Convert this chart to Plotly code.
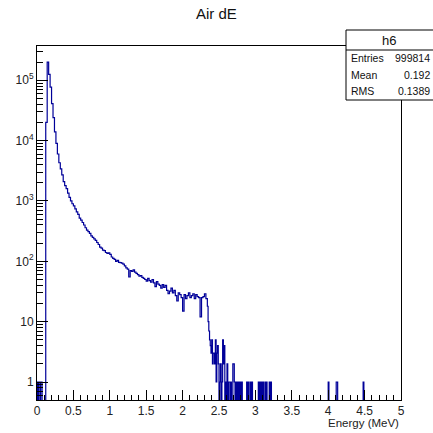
import plotly.graph_objects as go

# ---- data ----
# head: 0.01 MeV bins, low edges starting at 0.00
head_start = 0.00
head_width = 0.01
head_counts = [1, 0, 1, 1, 0, 1, 1, 0, 0, 0, 0, 0]

# main body: 0.02 MeV bins, low edges starting at 0.12
main_start = 0.12
main_width = 0.02
main_counts = [
    20000, 200000, 125000, 77000, 41000, 24000, 14000, 9000, 6000, 4300,
    3400, 2700, 2100, 1800, 1600, 1350, 1150, 1000, 900, 830,
    740, 660, 600, 520, 480, 440, 400, 360, 330, 310,
    290, 265, 250, 235, 222, 205, 190, 172, 165, 153,
    150, 140, 135, 138, 130, 118, 112, 108, 100, 104,
    96, 95, 93, 90, 84, 78, 74, 55, 70, 68,
    72, 66, 63, 60, 57, 58, 54, 52, 50, 47,
    52, 48, 45, 50, 44, 38, 46, 42, 40, 36,
    41, 37, 40, 33, 29, 32, 36, 30, 33, 27,
    22, 30, 28, 25, 15, 28, 24, 27, 30, 25,
    27, 29, 24, 28, 26, 25, 12, 25, 26, 29,
    24,
]

# tail: 0.01 MeV bins from 2.34 to 5.00, only non-empty bins listed
tail_start = 2.34
tail_end = 5.00
tail_width = 0.01
tail_energy = [2.34, 2.35, 2.36, 2.37, 2.38, 2.39, 2.40, 2.41, 2.42, 2.43,
               2.44, 2.45, 2.46, 2.47, 2.48, 2.49, 2.51, 2.52, 2.54, 2.55,
               2.56, 2.57, 2.59, 2.61, 2.63, 2.64, 2.66, 2.69, 2.70, 2.71,
               2.73, 2.75, 2.77, 2.79, 2.81, 2.88, 2.90, 2.93, 2.95, 3.04,
               3.06, 3.08, 3.10, 3.13, 3.15, 3.19, 3.21, 4.00, 4.11, 4.12,
               4.48]
tail_counts = [18, 10, 7, 5, 4, 3, 5, 2, 3, 3,
               2, 5, 1, 3, 4, 2, 1, 2, 1, 5,
               2, 4, 1, 2, 1, 1, 1, 2, 2, 1,
               1, 1, 1, 1, 1, 1, 1, 1, 1, 1,
               1, 1, 1, 1, 1, 1, 1, 1, 1, 1,
               1]

y_tick_vals = [1, 10, 100, 1000, 10000, 100000]
y_tick_text = ["1", "10", "10<sup>2</sup>", "10<sup>3</sup>", "10<sup>4</sup>", "10<sup>5</sup>"]
x_tick_vals = [0, 0.5, 1, 1.5, 2, 2.5, 3, 3.5, 4, 4.5, 5]
x_tick_text = ["0", "0.5", "1", "1.5", "2", "2.5", "3", "3.5", "4", "4.5", "5"]

stats_name = "h6"
stats_labels = ["Entries", "Mean", "RMS"]
stats_values = ["999814", "0.192", "0.1389"]

# ---- build step outline ----
FLOOR = 1e-3  # empty bins drawn down to below the frame
edges, vals = [], []
for i, c in enumerate(head_counts):
    edges.append(round(head_start + i * head_width, 4)); vals.append(c)
for i, c in enumerate(main_counts):
    edges.append(round(main_start + i * main_width, 4)); vals.append(c)
tail_map = {round(e, 2): c for e, c in zip(tail_energy, tail_counts)}
n_tail = int(round((tail_end - tail_start) / tail_width))
for i in range(n_tail):
    e = round(tail_start + i * tail_width, 2)
    edges.append(e); vals.append(tail_map.get(e, 0))
edges.append(tail_end); vals.append(0)
yplot = [v if v > 0 else FLOOR for v in vals]

fig = go.Figure()
fig.add_trace(go.Scatter(
    x=[0.0] + edges, y=[FLOOR] + yplot, mode="lines",
    line=dict(color="#000099", width=1.2, shape="hv"),
    hoverinfo="skip", showlegend=False,
))

minor_y = [m * 10 ** k for k in range(-1, 6) for m in range(2, 10)]
ylo, yhi = -0.298, 5.568

FONT = "Liberation Sans, Arial, Helvetica, sans-serif"
fig.update_layout(
    width=433, height=433,
    margin=dict(l=37, r=32, t=46, b=33, autoexpand=False),
    paper_bgcolor="white", plot_bgcolor="white",
    font=dict(family=FONT, size=11, color="#222222"),
    showlegend=False,
)
fig.update_xaxes(
    range=[0, 5], showgrid=False, zeroline=False,
    showline=True, linecolor="black", linewidth=1, mirror=True,
    ticks="inside", ticklen=10, tickcolor="black", tickwidth=1,
    tickmode="array", tickvals=x_tick_vals, ticktext=x_tick_text,
    tickfont=dict(size=12, family=FONT, color="#222222"),
    minor=dict(ticks="inside", ticklen=5, dtick=0.1, tick0=0, tickcolor="black", showgrid=False),
)
fig.update_yaxes(
    type="log", range=[ylo, yhi], showgrid=False, zeroline=False,
    showline=True, linecolor="black", linewidth=1, mirror=True,
    ticks="inside", ticklen=11, tickcolor="black", tickwidth=1,
    tickmode="array", tickvals=y_tick_vals, ticktext=y_tick_text,
    tickfont=dict(size=12, family=FONT, color="#222222"),
    minor=dict(ticks="inside", ticklen=6, tickmode="array", tickvals=minor_y,
               tickcolor="black", showgrid=False),
)

# title
fig.add_annotation(text="Air dE", xref="paper", yref="paper",
                   x=(216 - 37) / 364, y=(400 - 13) / 354,
                   showarrow=False, font=dict(size=15, family=FONT, color="#111111"),
                   xanchor="center", yanchor="middle")
# x-axis title
fig.add_annotation(text="Energy (MeV)", xref="paper", yref="paper",
                   x=1.0, y=(400 - 423) / 354, showarrow=False,
                   font=dict(size=11.5, family=FONT, color="#222222"),
                   xanchor="right", yanchor="middle")

# stats box
def px(xp):
    return (xp - 37) / 364
def py(yp):
    return (400 - yp) / 354

fig.add_shape(type="rect", xref="paper", yref="paper",
              x0=px(346), x1=px(440), y0=py(100), y1=py(30),
              line=dict(color="black", width=1), fillcolor="white", layer="above")
fig.add_shape(type="line", xref="paper", yref="paper",
              x0=px(346), x1=px(440), y0=py(50), y1=py(50),
              line=dict(color="black", width=1), layer="above")
fig.add_annotation(text=stats_name, xref="paper", yref="paper",
                   x=px(389), y=py(40), showarrow=False,
                   font=dict(size=13, family=FONT, color="#111111"),
                   xanchor="center", yanchor="middle")
row_y = [58, 75, 91]
for lab, val, yy in zip(stats_labels, stats_values, row_y):
    fig.add_annotation(text=lab, xref="paper", yref="paper",
                       x=px(349), y=py(yy), showarrow=False,
                       font=dict(size=10.5, family=FONT, color="#111111"),
                       xanchor="left", yanchor="middle")
    fig.add_annotation(text=val, xref="paper", yref="paper",
                       x=px(432), y=py(yy), showarrow=False,
                       font=dict(size=10.5, family=FONT, color="#111111"),
                       xanchor="right", yanchor="middle")

fig.write_html("out.html", config={"displayModeBar": False})

# remove the default page margin so the figure sits at the window's top-left
with open("out.html", "r", encoding="utf-8") as f:
    html = f.read()
html = html.replace("<body>", '<body style="margin:0;padding:0;overflow:hidden">', 1)
with open("out.html", "w", encoding="utf-8") as f:
    f.write(html)
